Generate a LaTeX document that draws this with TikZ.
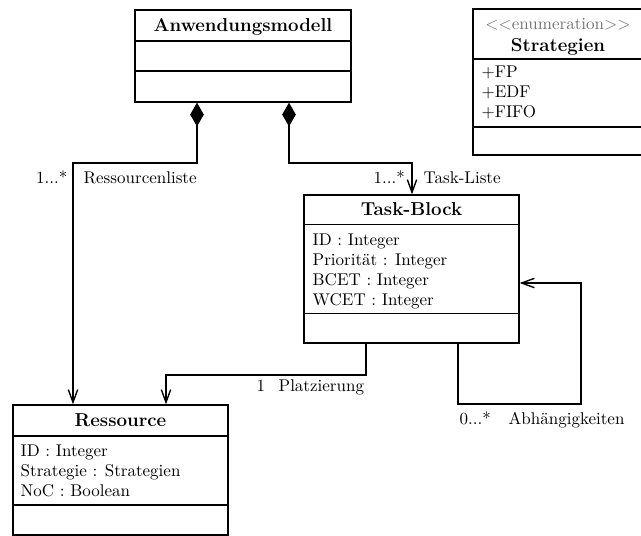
\documentclass[tikz,border=0pt]{standalone}
\usetikzlibrary{arrows.meta,fit}
\begin{document}
\begin{tikzpicture}[x=0.588pt,y=-0.588pt,line width=0.8pt,
  umlbox/.style={draw,inner sep=0pt},
  classname/.style={anchor=base,inner sep=0pt,font=\fontsize{11}{13}\selectfont\bfseries},
  stereo/.style={anchor=base,inner sep=0pt,text=black!55},
  attr/.style={anchor=base west,inner sep=0pt},
  lbl/.style={anchor=base west,inner sep=0pt},
  comp/.style={{Diamond[length=14pt,width=8pt]}-{Straight Barb[length=7.5pt,width=5.5pt]}},
  assoc/.style={-{Straight Barb[length=7.5pt,width=5.5pt]}}]
\useasboundingbox (0,0) rectangle (641,536);

% class Anwendungsmodell
\node[umlbox,fit={(135,10) (351,102)}] (am) {};
\draw (am.west |- 0,41) -- (am.east |- 0,41);
\draw (am.west |- 0,71) -- (am.east |- 0,71);
\node[classname] (amT) at (am.north |- 0,31.5) {Anwendungsmodell};

% enumeration Strategien
\node[umlbox,fit={(473,9) (643,155)}] (st) {};
\draw (st.west |- 0,59) -- (st.east |- 0,59);
\draw (st.west |- 0,127) -- (st.east |- 0,127);
\node[stereo] (stS) at (558,29) {$<<$enumeration$>>$};
\node[classname] (stT) at (558,51) {Strategien};
\node[attr] (st1) at (481,77) {+FP};
\node[attr] (st2) at (481,97) {+EDF};
\node[attr] (st3) at (481,117) {+FIFO};

% class Task-Block
\node[umlbox,fit={(304,195) (519,343)}] (tb) {};
\draw (tb.west |- 0,224.5) -- (tb.east |- 0,224.5);
\draw (tb.west |- 0,313.5) -- (tb.east |- 0,313.5);
\node[classname] (tbT) at (tb.north |- 0,215.5) {Task-Block};
\node[attr] (tb1) at (312,245) {ID : Integer};
\node[attr] (tb2) at (312,265.3) {Priorität : Integer};
\node[attr] (tb3) at (312,285.6) {BCET : Integer};
\node[attr] (tb4) at (312,305.6) {WCET : Integer};

% class Ressource
\node[umlbox,fit={(13,405) (228,535)}] (rs) {};
\draw (rs.west |- 0,436) -- (rs.east |- 0,436);
\draw (rs.west |- 0,505) -- (rs.east |- 0,505);
\node[classname] (rsT) at (rs.north |- 0,426.5) {Ressource};
\node[attr] (rs1) at (20,456.7) {ID : Integer};
\node[attr] (rs2) at (20,476.7) {Strategie : Strategien};
\node[attr] (rs3) at (20,496.7) {NoC : Boolean};

% bend points of the connectors
\coordinate (r1) at (197,163);
\coordinate (r2) at (73,163);
\coordinate (t1) at (289,163);
\coordinate (t2) at (412,163);
\coordinate (p1) at (366,375);
\coordinate (p2) at (166,375);
\coordinate (d1) at (458,404);
\coordinate (d2) at (581,404);
\coordinate (d3) at (581,283);

% compositions Anwendungsmodell -> Ressource / Task-Block
\draw[comp] (am.south -| r1) -- (r1) -- (r2) -- (rs.north -| r2);
\draw[comp] (am.south -| t1) -- (t1) -- (t2) -- (tb.north -| t2);
% association Task-Block -> Ressource
\draw[assoc] (tb.south -| p1) -- (p1) -- (p2) -- (rs.north -| p2);
% self association of Task-Block
\draw[assoc] (tb.south -| d1) -- (d1) -- (d2) -- (d3) -- (tb.east |- d3);

% connector labels
\node[lbl] (lr1) at (35.5,183) {1...*};
\node[lbl] (lr2) at (83,183) {Ressourcenliste};
\node[lbl] (lt1) at (373,183) {1...*};
\node[lbl] (lt2) at (423,183) {Task-Liste};
\node[lbl] (lp1) at (256,391.5) {1};
\node[lbl] (lp2) at (278,391.5) {Platzierung};
\node[lbl] (ld1) at (459,424) {0...*};
\node[lbl] (ld2) at (508,424) {Abhängigkeiten};
\end{tikzpicture}
\end{document}
